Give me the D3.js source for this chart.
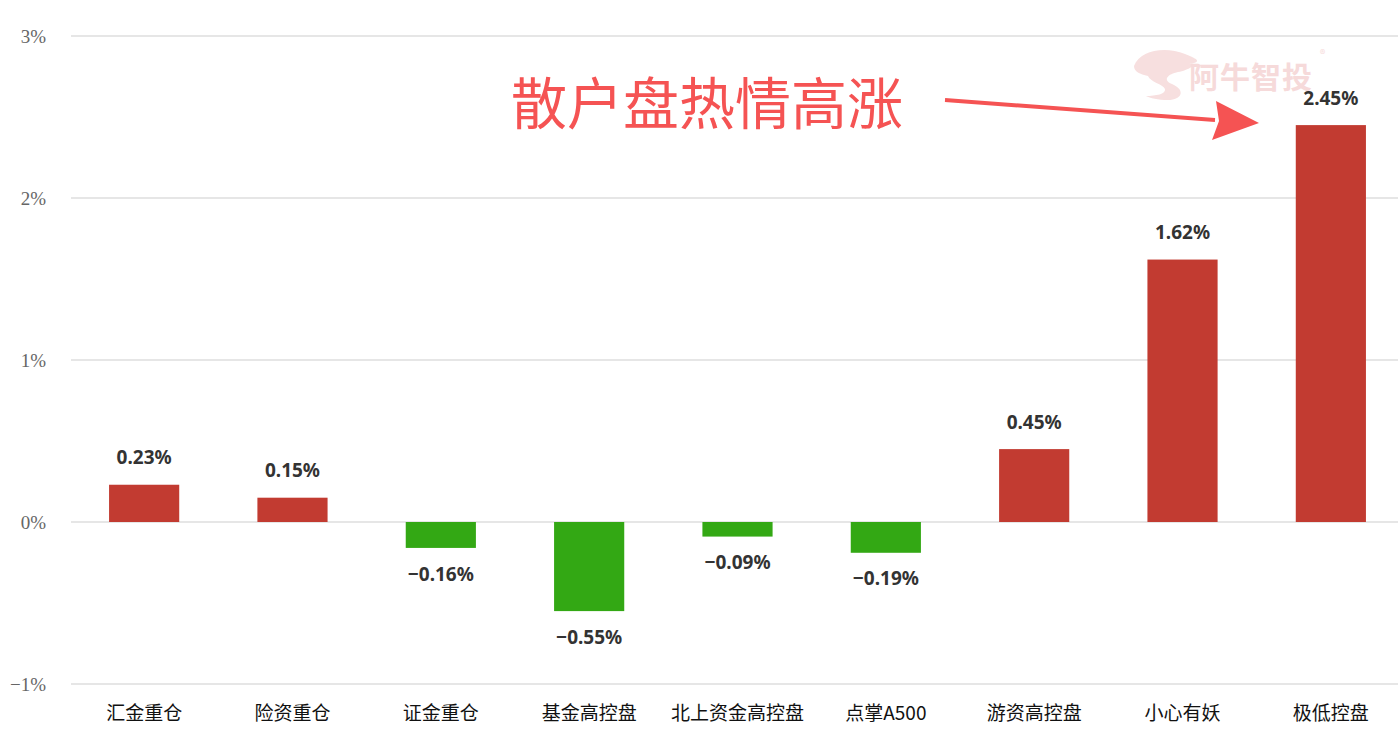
<!DOCTYPE html>
<html><head><meta charset="utf-8">
<script src="https://cdn.jsdelivr.net/npm/d3@7"></script>
<style>body{margin:0;background:#fff}svg{display:block}</style>
</head><body>
<script>
const categories = ["汇金重仓","险资重仓","证金重仓","基金高控盘","北上资金高控盘","点掌A500","游资高控盘","小心有妖","极低控盘"];
const values = [0.23,0.15,-0.16,-0.55,-0.09,-0.19,0.45,1.62,2.45];
const yTicks = [-1,0,1,2,3];
const annotation = "散户盘热情高涨";
const watermark = "阿牛智投";

const W=1398,H=739;
const svg=d3.select("body").append("svg").attr("width",W).attr("height",H);
const x=d3.scaleBand().domain(categories).range([71,1404]).paddingInner(0.527).paddingOuter(0.2566);
const y=d3.scaleLinear().domain([-1,3]).range([684,36]);
const font="'Noto Sans CJK SC','Noto Sans',sans-serif";

// grid
svg.append("g").selectAll("line").data(yTicks).join("line")
  .attr("x1",71).attr("x2",1398).attr("y1",d=>y(d)).attr("y2",d=>y(d))
  .attr("stroke","#e6e6e6").attr("stroke-width",2);
// y labels
svg.append("g").selectAll("text").data(yTicks).join("text")
  .attr("x",46).attr("y",d=>y(d)).attr("dy","0.35em").attr("text-anchor","end")
  .attr("font-family","'Liberation Serif','DejaVu Serif',serif").attr("font-size",19).attr("fill","#666")
  .text(d=>(d<0?"\u2212"+Math.abs(d):d)+"%");

// watermark
const wm=svg.append("g").attr("opacity",0.9);
wm.append("path").attr("d","M1134,66 C1140,50 1165,46 1185,54 C1195,58 1205,62 1188,64 C1200,62 1190,70 1178,72 C1168,74 1162,80 1172,84 C1186,90 1182,100 1168,100 C1158,100 1150,98 1146,96 C1156,96 1166,94 1165,89 C1163,84 1150,82 1148,76 C1140,74 1134,72 1134,66 Z")
  .attr("fill","#f7dcdc");
wm.append("text").attr("x",1189).attr("y",88).attr("font-family",font).attr("font-weight",700)
  .attr("font-size",30).attr("letter-spacing",1).attr("fill","#f6d6d6").text(watermark);
wm.append("text").attr("x",1320).attr("y",58).attr("font-family",font).attr("font-size",11).attr("fill","#f6d6d6").text("®");

// bars
svg.append("g").selectAll("rect").data(values).join("rect")
  .attr("x",(d,i)=>x(categories[i])).attr("width",x.bandwidth())
  .attr("y",d=>y(Math.max(0,d))).attr("height",d=>Math.abs(y(d)-y(0)))
  .attr("fill",d=>d>=0?"#c23b31":"#33a814");
// value labels
svg.append("g").selectAll("text").data(values).join("text")
  .attr("x",(d,i)=>x(categories[i])+x.bandwidth()/2)
  .attr("y",d=>d>=0?y(d)-27:y(d)+26).attr("dy","0.35em").attr("text-anchor","middle")
  .attr("font-family","'Noto Sans',sans-serif").attr("font-weight",700).attr("font-size",19).attr("fill","#333")
  .text(d=>(d<0?"\u2212"+Math.abs(d).toFixed(2):d.toFixed(2))+"%");
// x labels
svg.append("g").selectAll("text").data(categories).join("text")
  .attr("x",d=>x(d)+x.bandwidth()/2).attr("y",713).attr("dy","0.35em").attr("text-anchor","middle")
  .attr("font-family",font).attr("font-size",19).attr("fill","#111").text(d=>d);

// annotation
svg.append("text").attr("x",511).attr("y",124).attr("font-family",font).attr("font-size",56)
  .attr("fill","#f55353").text(annotation);
svg.append("line").attr("x1",945).attr("y1",100).attr("x2",1215).attr("y2",120)
  .attr("stroke","#f55353").attr("stroke-width",4);
svg.append("path").attr("d","M1259,123 L1212,140 L1219,121 L1216,101 Z").attr("fill","#f55353");
</script>
</body></html>
